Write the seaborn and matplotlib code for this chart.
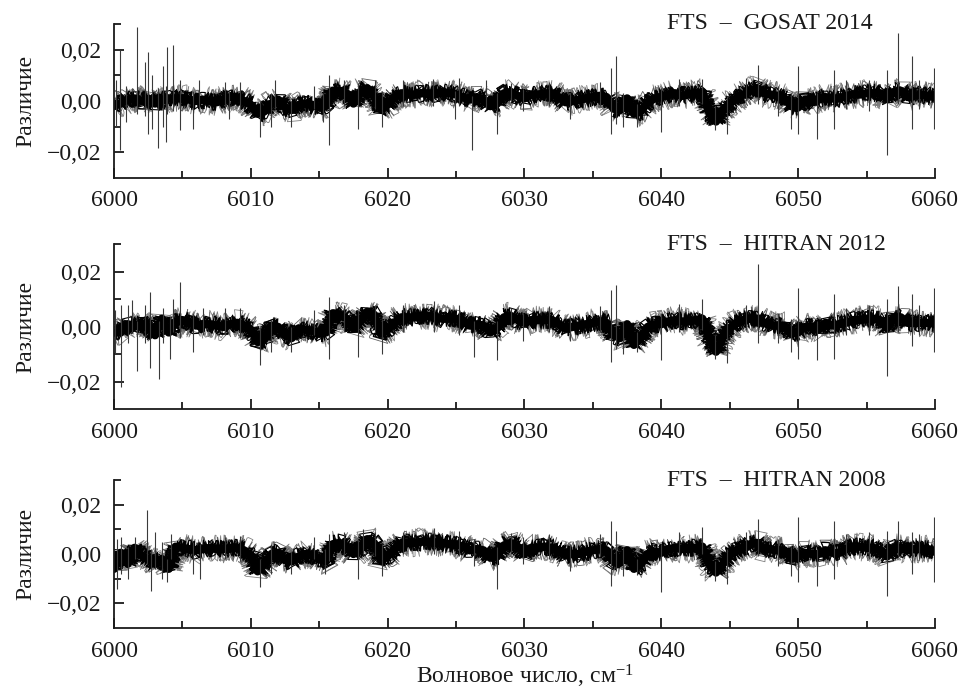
import numpy as np
import pandas as pd
import matplotlib
matplotlib.use("Agg")
import matplotlib.pyplot as plt
import seaborn as sns
from matplotlib.ticker import MultipleLocator, FuncFormatter, FixedLocator

# ---------------- data (difference values in units of 1e-3) ----------------
wavenumber = np.arange(6000.0, 6060.001, 0.5)   # sampling of the read-off centre line

center_gosat2014 = [
    -2, -1, 0.5, 1, 0, 1, -1, 0, 1, 1,
    1, 0.5, 0, 0.5, 0, -0.5, 0.5, 1.5, 1.5, 0,
    -1.5, -5, -4, -1, 0.5, -2.5, -3.5, -1.5, -1, -1.5,
    -2.5, -2, 4, 4, 3, -1, 3.5, 5, 2, -3,
    -1.5, 1.5, 3, 2.5, 2.5, 3, 3, 2.5, 3.5, 3,
    2.5, 1.5, 0.5, 1.5, 0.5, -2, -1, 3, 3.5, 2,
    1, 2.5, 2.5, 3, 3, 1.5, -0.5, 0, 0.5, 1,
    1.5, 2, 1.5, -3, -3.5, 1, -5, -4, -0.5, 1,
    1.5, 2.5, 3, 2, 2.5, 3, 3.5, -4.5, -8, -3.5,
    -1, 1, 2.5, 4, 5, 3, 2.5, 2, 1, -2,
    -2.5, 0.5, -0.5, 0.5, 1.5, 1, 1, 2, 2.5, 2.5,
    3, 3, 3, 1, 3.5, 4, 1.5, 2, 2.5, 2,
    1.5,
]
center_hitran2012 = [
    -2, -2, 1, 0, 1.5, 0, -3, 3, -2, 2,
    2.5, 1.5, 0.5, 1, 1, 0.5, 0, 1, 1.5, 0.5,
    -1, -5.5, -4.5, 0.5, 0, -3, -4, -0.5, -1, -1.5,
    -2.5, -2, 5, 4.5, 3, -0.5, 2, 5.5, 4.5, -2.5,
    -1, 1.5, 3.5, 3.5, 3.5, 4, 4, 3.5, 3, 3,
    3, 2, 0.5, 1, 0.5, -2, -0.5, 3.5, 4, 2.5,
    1.5, 2.5, 2.5, 2.5, 2.5, 1, -0.5, 0, 0.5, 1,
    1.5, 2, 1.5, -3, -4, 1, -6.5, -4, 0, 1,
    1, 2, 2.5, 2, 2, 2.5, 3, -4, -9, -3.5,
    -0.5, 1.5, 2.5, 3, 3, 1.5, 0.5, 0.5, 0.5, -2.5,
    -2, 0, 0, -1, 1.5, 0.5, 1, 1.5, 2.5, 2.5,
    3, 3, 2.5, -0.5, 3.5, 3.5, 1.5, 1.5, 1.5, 1.5,
    1.2,
]
center_hitran2008 = [
    -6, 0.5, -4, 2.5, -0.5, -2, -4, -2, -6, 3,
    2.5, 2, 1.5, 2, 2.5, 2, 2, 2.5, 2.5, 1.5,
    -0.5, -7, -4, 0, 0.5, -2.5, -3, -1, 0, -0.5,
    -2, -3, 4, 4.5, 3, 0, 2, 6, 4.5, -2.5,
    -1, 2, 4.5, 4.5, 4.5, 5, 5, 4.5, 4.5, 4,
    4, 3, 1.5, 2, 1.5, -1.5, -1, 3.5, 4.5, 3,
    0, 2.5, 2.5, 3, 2.5, 1.5, -0.5, 0, 0, 1,
    1.5, 2, 1.5, -3, -3.5, 1.5, -6, -4, 0, 1,
    0.5, 2, 2.5, 2, 2, 2.5, 3, -4, -7.5, -4,
    -0.5, 1.5, 2.5, 4, 4.5, 2, 2, 1.5, 1.5, -2,
    -1, 0.5, 0, 0, 1.5, 0.5, 0.5, 2, 3, 3,
    2.5, 2.5, 1.5, -1, 2.5, 2.5, 1.5, 2, 2, 2,
    1,
]

# spikes: position, lowest value, highest value (1e-3)
spike_x_gosat2014 = [6000.15, 6000.45, 6000.9, 6001.7, 6002.3, 6002.5, 6002.8, 6003.2, 6003.6, 6003.8,
                     6003.9, 6004.3, 6004.8, 6005.8, 6006.2, 6008.1, 6008.4, 6009.2, 6010.7, 6011.5,
                     6011.8, 6012.9, 6014.6, 6015.3, 6015.7, 6016.8, 6017.8, 6019.1, 6019.6, 6021.1,
                     6023.3, 6024.9, 6025.2, 6026.2, 6027.2, 6028.0, 6029.0, 6029.9, 6031.8, 6033.3,
                     6035.5, 6036.3, 6036.7, 6037.2, 6038.2, 6040.0, 6041.3, 6043.0, 6043.9, 6044.8,
                     6046.2, 6047.1, 6048.5, 6049.5, 6050.0, 6051.4, 6052.6, 6053.5, 6055.2, 6056.5,
                     6057.3, 6058.3, 6058.8, 6059.95]
spike_lo_gosat2014 = [-10, -19, -8, -5, -6, -13, -11, -18.5, -10, -16,
                      -5, -4, -11.4, -11, -4, -3, -7, -3, -14, -10,
                      -3, -10, -3, -8, -17, -2, -11, -3, -10, -2,
                      -2, -7, -2, -19, -3, -13, 0, -4, -2, -7,
                      -2, -12.7, -9, -10, -10, -12, -2, -1, -11.4, -13,
                      0, -1, -6, -11, -12.7, -15, -11, -3, -4, -21,
                      -1, -11, -3, -11]
spike_hi_gosat2014 = [8, 20, 6, 29, 15, 19, 10, 5, 13.5, 6,
                      21, 22, 8, 4, 8, 7.5, 4, 7.5, 0, 3,
                      8, 0, 6, 3, 10, 8, 7, 8, 4, 8,
                      8.5, 4, 9, 2, 8, 3, 7, 4.5, 7.5, 3,
                      7.5, 12.8, 17.4, 3, -1, 5, 8.5, 8.5, -2, 2,
                      9, 14, 6, 3, 13.5, 3, 12, 8, 8, 12,
                      26.5, 17.4, 8, 12.8]

spike_x_hitran2012 = [6000.1, 6000.5, 6001.0, 6001.3, 6001.7, 6002.3, 6002.6, 6003.3, 6003.6, 6004.1,
                      6004.3, 6004.8, 6005.8, 6006.5, 6008.1, 6009.2, 6010.7, 6011.5, 6012.9, 6014.6,
                      6015.7, 6016.8, 6017.8, 6019.1, 6019.6, 6021.1, 6023.4, 6025.2, 6026.3, 6028.0,
                      6029.0, 6029.9, 6031.8, 6033.3, 6035.5, 6036.3, 6036.7, 6037.2, 6038.2, 6040.0,
                      6041.3, 6043.0, 6043.9, 6044.8, 6046.2, 6047.1, 6048.5, 6049.5, 6050.0, 6051.4,
                      6052.6, 6053.5, 6055.2, 6056.5, 6057.3, 6058.3, 6058.8, 6059.95]
spike_lo_hitran2012 = [-10, -22, -6, -2, -16, -6, -15, -19, -6, -11.5,
                       -2, -4, -9, -3, -3, -4, -14, -9, -9, -3,
                       -11.5, -2, -11, -2, -10, -2, -2, -3, -11, -12,
                       0, -5, -2, -5, -2, -12.7, -8, -10, -9, -12,
                       -2, -1, -11.5, -13, -1, -6, -6, -9, -11.5, -12,
                       -11.5, -3, -3, -18, -2, -7, -3, -9]
spike_hi_hitran2012 = [6, 8, 8, 9.7, 2, 8, 12.7, 2, 7, 4,
                       10, 16.4, 5, 7, 7, 7, 0, 3, 0, 6,
                       11, 8, 6, 8, 3, 8, 9.5, 8, 2, 2,
                       7, 5, 7.5, 4, 7.5, 13.3, 15.4, 2, -2, 5,
                       8.5, 10, -3, 2, 8, 23, 5, 3, 14, 2,
                       12, 7, 8, 10, 15, 12, 8, 14]

spike_x_hitran2008 = [6000.2, 6000.5, 6001.0, 6001.5, 6002.4, 6002.7, 6003.0, 6003.5, 6003.9, 6004.2,
                      6005.8, 6006.3, 6008.1, 6009.2, 6010.7, 6011.5, 6012.9, 6014.6, 6015.4, 6015.7,
                      6016.8, 6017.8, 6018.2, 6019.1, 6019.6, 6021.1, 6023.4, 6025.2, 6026.3, 6028.0,
                      6029.0, 6029.9, 6031.8, 6033.3, 6035.5, 6036.3, 6036.7, 6037.2, 6038.2, 6040.0,
                      6041.3, 6043.0, 6043.9, 6044.8, 6046.2, 6047.1, 6048.5, 6049.5, 6050.0, 6051.4,
                      6052.6, 6053.5, 6055.2, 6056.5, 6057.3, 6058.3, 6058.8, 6059.95]
spike_lo_hitran2008 = [-14, -8, -10, -2, -4, -15, -6, -10, -11.5, -2,
                       -8, -10, -2, -3, -13.5, -8, -8, -2, -8, -3,
                       -1, -10, 0, -1, -9, 0, 0, -1, -5, -14,
                       1, -4, -2, -7, -1, -12.8, -7, -9, -8.5, -15.5,
                       -1, 0, -10.8, -12, 0, -1, -5, -8.8, -11.5, -12.8,
                       -10, -2, -2, -17, -1, -8, -2, -11.5]
spike_hi_hitran2008 = [6, 6.8, 3, 7, 18, 2, 8.8, 5, -2, 8,
                       5, 4, 7, 7.5, -2, 4, 1, 7, 2, 8,
                       9, 6, 10, 9, 4, 9, 10.5, 9.5, 6, 3,
                       8.5, 7, 8, 4, 8, 13.5, 9.5, 3, -2, 4,
                       9, 10.8, -3, 2, 9, 14, 6, 3, 15, 2,
                       13.5, 8, 9, 9.5, 13.5, 9, 8, 15]

titles = ["FTS\u2002–\u2002GOSAT 2014", "FTS\u2002–\u2002HITRAN 2012", "FTS\u2002–\u2002HITRAN 2008"]
xticks_major = [6000, 6010, 6020, 6030, 6040, 6050, 6060]
yticks_major = [-0.02, 0.0, 0.02]

# ---------------- style ----------------
sns.set_style("ticks")
plt.rcParams["font.family"] = ["Liberation Serif", "DejaVu Serif"]
plt.rcParams["mathtext.fontset"] = "custom"
plt.rcParams["mathtext.rm"] = "Liberation Serif"
plt.rcParams["mathtext.it"] = "Liberation Serif:italic"
plt.rcParams["path.simplify"] = False
TXT = "#1a1a1a"

# jagged trace layers: (colour, linewidth, sketch scale px, sketch length px, randomness)
trace_layers = [
    ("#808080", 0.6, 14, 0.45, 80),
    ("#7a7a7a", 0.6, 13, 0.75, 70),
    ("#606060", 0.6, 12, 1.05, 60),
    ("#000000", 0.8, 9, 0.5, 60),
    ("#000000", 0.8, 8.5, 0.85, 50),
    ("#000000", 0.8, 8, 1.2, 40),
    ("#000000", 0.8, 7.5, 1.6, 40),
    ("#000000", 0.8, 7, 0.65, 45),
]

fig = plt.figure(figsize=(9.6, 6.89), dpi=100)
positions = [
    [0.11875, 0.7417, 0.8552, 0.2235],
    [0.11875, 0.4057, 0.8552, 0.2395],
    [0.11875, 0.0885, 0.8552, 0.2148],
]
centers = [center_gosat2014, center_hitran2012, center_hitran2008]
spikes = [
    (spike_x_gosat2014, spike_lo_gosat2014, spike_hi_gosat2014),
    (spike_x_hitran2012, spike_lo_hitran2012, spike_hi_hitran2012),
    (spike_x_hitran2008, spike_lo_hitran2008, spike_hi_hitran2008),
]

def fmt(v, _):
    s = f"{v:.2f}".replace(".", ",")
    if v < -1e-9:
        s = "\u2212" + s[1:]
    return s

for pos, center, (sx, slo, shi), title in zip(positions, centers, spikes, titles):
    ax = fig.add_axes(pos)
    df = pd.DataFrame({"wn": wavenumber, "diff": np.asarray(center) * 1e-3})
    for col, lw, sc, ln, rnd in trace_layers:
        sns.lineplot(data=df, x="wn", y="diff", ax=ax, color=col, lw=lw)
        ax.lines[-1].set_sketch_params(sc, ln, rnd)
    sns.lineplot(data=df, x="wn", y="diff", ax=ax, color="#000000", lw=6,
                 solid_joinstyle="round")
    ax.vlines(sx, np.asarray(slo) * 1e-3, np.asarray(shi) * 1e-3, color="#3a3a3a", lw=0.8)

    ax.set_xlim(6000, 6060)
    ax.set_ylim(-0.03, 0.03)
    ax.xaxis.set_major_locator(FixedLocator(xticks_major))
    ax.xaxis.set_minor_locator(MultipleLocator(5))
    ax.yaxis.set_major_locator(FixedLocator(yticks_major))
    ax.yaxis.set_minor_locator(FixedLocator([-0.01, 0.01, 0.03]))
    ax.yaxis.set_major_formatter(FuncFormatter(fmt))
    ax.tick_params(which="major", direction="in", length=7, width=1.3, labelsize=17,
                   pad=9, colors=TXT)
    ax.tick_params(which="minor", direction="in", length=5, width=1.3, colors=TXT)
    for s in ["top", "right"]:
        ax.spines[s].set_visible(False)
    for s in ["left", "bottom"]:
        ax.spines[s].set_linewidth(1.3)
        ax.spines[s].set_color(TXT)
    ax.set_xlabel("")
    ax.set_ylabel("Различие", fontsize=17, color=TXT, labelpad=8)
    ax.text(0.6736, 1.0, title, transform=ax.transAxes, ha="left", va="center",
            fontsize=17, color=TXT)

fig.text(0.5463, 0.018, "Волновое число, см$^{-1}$", ha="center", va="center",
         fontsize=17, color=TXT)

fig.savefig("out.png", dpi=100)
